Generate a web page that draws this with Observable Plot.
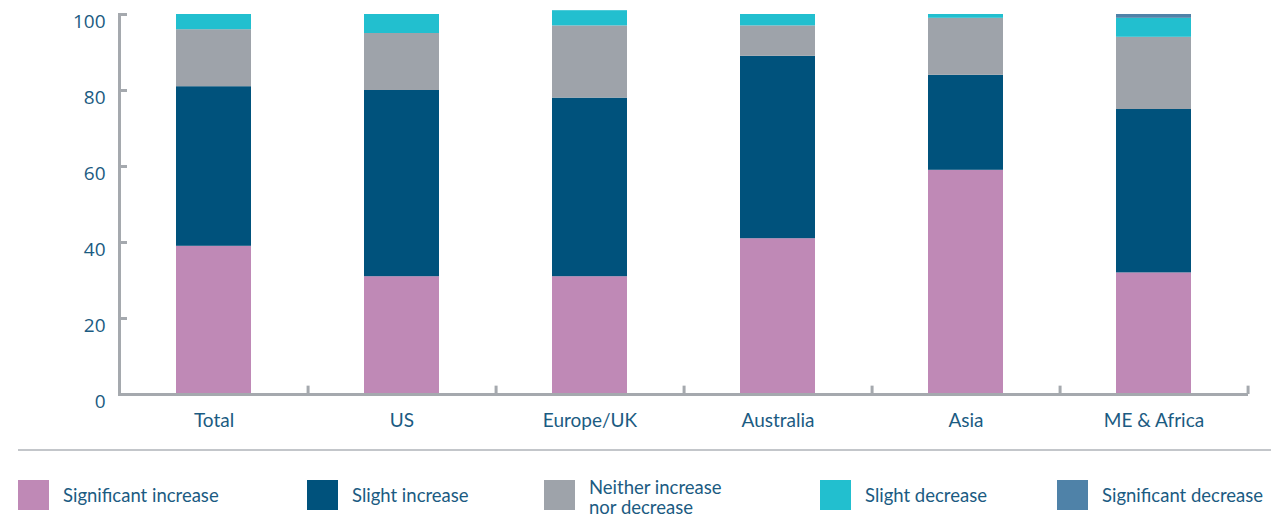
<!DOCTYPE html>
<html>
<head>
<meta charset="utf-8">
<script src="https://cdn.jsdelivr.net/npm/d3@7"></script>
<script src="https://cdn.jsdelivr.net/npm/@observablehq/plot@0.6"></script>
<style>
  html, body { margin: 0; padding: 0; background: #fff; }
  #wrap { position: relative; width: 1271px; height: 518px; overflow: hidden; }
  #sep { position: absolute; left: 18px; right: 0; top: 449px; height: 0; border-top: 2px solid #c3c6ca; }
  .item { position: absolute; top: 480px; display: flex; align-items: center; height: 30px; }
  .sw { width: 31px; height: 30px; margin-right: 14px; flex: none; }
  .lbl { font-family: Lato, "Open Sans", sans-serif; font-size: 18.5px; color: #1b5b82; line-height: 20px; white-space: nowrap; }
  .two { position: relative; top: 2px; }
  .two div { height: 20px; line-height: 20px; }
</style>
</head>
<body>
<div id="wrap">
  <div id="chart"></div>
  <div id="sep"></div>
  <div id="legend"></div>
</div>
<script>
const regions = ["Total", "US", "Europe/UK", "Australia", "Asia", "ME & Africa"];
const series = ["Significant increase", "Slight increase", "Neither increase nor decrease", "Slight decrease", "Significant decrease"];
const legendLabels = [["Significant increase"], ["Slight increase"], ["Neither increase", "nor decrease"], ["Slight decrease"], ["Significant decrease"]];
const colors = ["#bf89b6", "#00527c", "#9ea3aa", "#22bfcf", "#4f82a8"];
const significantIncrease = [39, 31, 31, 41, 59, 32];
const slightIncrease      = [42, 49, 47, 48, 25, 43];
const neither             = [15, 15, 19, 8, 15, 19];
const slightDecrease      = [4, 5, 4, 3, 1, 5];
const significantDecrease = [0, 0, 0, 0, 0, 1];
const yTicks = [0, 20, 40, 60, 80, 100];

const valuesBySeries = [significantIncrease, slightIncrease, neither, slightDecrease, significantDecrease];
const data = [];
series.forEach((s, si) => regions.forEach((r, ri) => data.push({region: r, category: s, value: valuesBySeries[si][ri]})));

const W = 1271, H = 440, mL = 119, mR = 23, mT = 14, mB = 46;
const step = (W - mL - mR) / regions.length;
const tickLen = 8;
const axisColor = "#a5a9ae";
const textColor = "#1b5b82";

const chart = Plot.plot({
  width: W, height: H,
  marginLeft: mL, marginRight: mR, marginTop: mT, marginBottom: mB,
  style: {fontFamily: "Lato, 'Open Sans', sans-serif", background: "#fff"},
  x: {domain: regions, paddingInner: 0.6, paddingOuter: 0.3, label: null},
  y: {domain: [0, 100], label: null},
  color: {domain: series, range: colors},
  marks: [
    Plot.barY(data, {x: "region", y: "value", fill: "category", order: series}),
    Plot.frame({anchor: "left", stroke: axisColor, strokeWidth: 3}),
    Plot.ruleY([0], {stroke: axisColor, strokeWidth: 3}),
    Plot.ruleX(regions, {x: d => d, dx: step / 2, y1: 0, y2: 2.2, stroke: axisColor, strokeWidth: 3}),
    Plot.axisY({ticks: yTicks.filter(d => d > 0), tickSize: tickLen, dx: tickLen, text: null, stroke: axisColor, strokeWidth: 3}),
    Plot.axisY({ticks: yTicks, tickSize: 0, tickPadding: 14, dy: 7, fill: textColor, fontSize: 19, fontFamily: "'Open Sans', sans-serif", tickFormat: d => d}),
    Plot.axisX({tickSize: 0, tickPadding: 19, fill: textColor, fontSize: 19})
  ]
});
document.getElementById("chart").appendChild(chart);

const legend = document.getElementById("legend");
const lefts = [18, 307, 544, 820, 1057];
legendLabels.forEach((lines, i) => {
  const it = document.createElement("div");
  it.className = "item";
  it.style.left = lefts[i] + "px";
  const inner = lines.length > 1
    ? `<div class="lbl two">${lines.map(t => `<div>${t}</div>`).join("")}</div>`
    : `<div class="lbl">${lines[0]}</div>`;
  it.innerHTML = `<div class="sw" style="background:${colors[i]}"></div>${inner}`;
  legend.appendChild(it);
});
</script>
</body>
</html>
